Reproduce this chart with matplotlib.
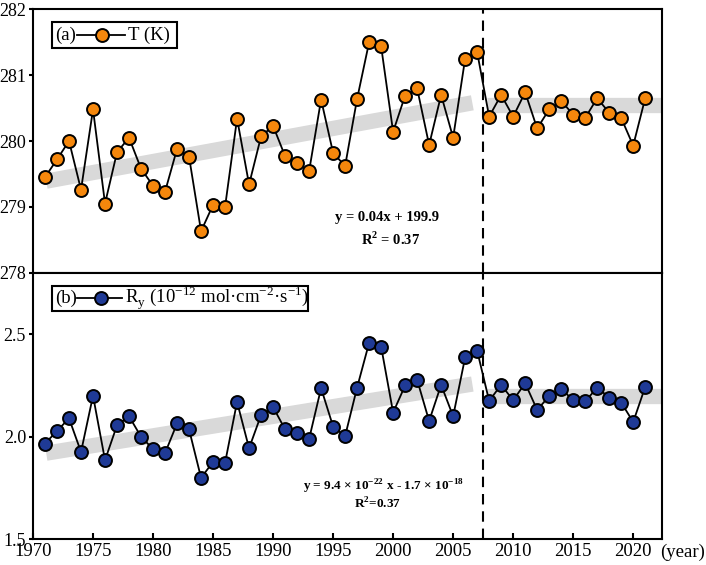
import numpy as np
import matplotlib.pyplot as plt
from matplotlib.lines import Line2D
from matplotlib.patches import Rectangle

plt.rcParams['font.family'] = ['Liberation Serif', 'DejaVu Serif']
plt.rcParams['mathtext.fontset'] = 'custom'
plt.rcParams['mathtext.rm'] = 'Liberation Serif'
plt.rcParams['mathtext.bf'] = 'Liberation Serif:bold'

# Years
years = np.arange(1971, 2022)

# (a) temperature in K
temp_k = [279.45, 279.72, 280.00, 279.26, 280.48, 279.05, 279.83, 280.05, 279.58, 279.32,
          279.23, 279.88, 279.76, 278.63, 279.03, 279.00, 280.34, 279.34, 280.07, 280.23,
          279.77, 279.67, 279.54, 280.63, 279.82, 279.62, 280.64, 281.50, 281.44, 280.14,
          280.69, 280.80, 279.94, 280.70, 280.05, 281.25, 281.35, 280.37, 280.70, 280.37,
          280.74, 280.19, 280.48, 280.61, 280.40, 280.35, 280.65, 280.43, 280.35, 279.93,
          280.65]

# (b) R_y in 10^-12 mol cm-2 s-1
r_y = [1.967, 2.028, 2.090, 1.926, 2.200, 1.886, 2.056, 2.100, 2.000, 1.940,
       1.920, 2.065, 2.036, 1.800, 1.877, 1.873, 2.170, 1.944, 2.106, 2.145,
       2.036, 2.016, 1.989, 2.237, 2.050, 2.003, 2.240, 2.458, 2.440, 2.118,
       2.250, 2.278, 2.077, 2.253, 2.100, 2.387, 2.420, 2.175, 2.253, 2.178,
       2.261, 2.131, 2.198, 2.232, 2.180, 2.172, 2.240, 2.191, 2.167, 2.072,
       2.243]

# trend bands (x start/end, y start/end)
trend_x1 = [1971.1, 2006.6]
trend_a1 = [279.39, 280.58]
trend_b1 = [1.92, 2.257]
trend_x2 = [2007.8, 2022.4]
trend_a2 = [280.54, 280.54]
trend_b2 = [2.20, 2.20]

split_year = 2007.5

W, H = 706, 565
fig = plt.figure(figsize=(W / 100, H / 100), dpi=100)


def fx(x):
    return x / W


def fy(y):
    return 1 - y / H


left, right = 33, 662
ax1 = fig.add_axes([fx(left), fy(272.7), (right - left) / W, (272.7 - 9.3) / H])
ax2 = fig.add_axes([fx(left), fy(539.3), (right - left) / W, (539.3 - 272.7) / H])

orange = '#f5870c'
blue = '#1f3a96'
band = '#d9d9d9'

for ax, vals, col, t1, t2 in [(ax1, temp_k, orange, trend_a1, trend_a2),
                              (ax2, r_y, blue, trend_b1, trend_b2)]:
    ax.plot(trend_x1, t1, color=band, lw=11, solid_capstyle='butt', zorder=1)
    ax.plot(trend_x2, t2, color=band, lw=11, solid_capstyle='butt', zorder=1)
    ax.plot(years, vals, color='black', lw=1.3, marker='o', ms=9.3,
            mfc=col, mec='black', mew=1.4, zorder=3)
    ax.axvline(split_year, color='black', lw=1.5, ls=(0, (5, 3.3)), zorder=2)
    ax.set_xlim(1970, 2022.4)
    for s in ax.spines.values():
        s.set_linewidth(1.5)
    ax.tick_params(axis='y', direction='out', length=3, width=1.5, pad=2, labelsize=13)
    ax.tick_params(axis='x', direction='in', length=4, width=1.5, pad=3, labelsize=13.5)

ax1.set_ylim(278, 282)
ax1.set_yticks([278, 279, 280, 281, 282])
ax1.tick_params(axis='x', bottom=False, labelbottom=False)

ax2.set_ylim(1.5, 2.8)
ax2.set_yticks([1.5, 2.0, 2.5])
ax2.set_yticklabels(['1.5', '2.0', '2.5'])
ax2.set_xticks([1970, 1975, 1980, 1985, 1990, 1995, 2000, 2005, 2010, 2015, 2020])
fig.text(fx(660), fy(552), '(year)', ha='left', va='center', fontsize=13.5)

# equations
fig.text(fx(387), fy(218), 'y = 0.04x + 199.9', ha='center', va='center',
         fontsize=10.5, fontweight='bold')
fig.text(fx(391), fy(239), r'R$^\mathbf{2}$ = 0.37', ha='center', va='center',
         fontsize=10.5, fontweight='bold')
fig.text(fx(384), fy(487), r'y = 9.4 × 10$^\mathbf{-22}$ x - 1.7 × 10$^\mathbf{-18}$',
         ha='center', va='center', fontsize=9.5, fontweight='bold')
fig.text(fx(378), fy(504), r'R$^\mathbf{2}$=0.37', ha='center', va='center',
         fontsize=9.5, fontweight='bold')


# legend boxes drawn by hand
def legend_box(x0, x1, y0, y1, tag, lx0, lx1, mx, label, lab_x, col):
    yc = (y0 + y1) / 2
    fig.add_artist(Rectangle((fx(x0), fy(y1)), fx(x1 - x0), (y1 - y0) / H,
                             transform=fig.transFigure, fill=True, fc='white',
                             ec='black', lw=1.5, zorder=5))
    fig.text(fx(55), fy(yc), tag, ha='left', va='center', fontsize=13.5, zorder=6)
    fig.add_artist(Line2D([fx(lx0), fx(lx1)], [fy(yc), fy(yc)], color='black', lw=1.3,
                          transform=fig.transFigure, zorder=6))
    fig.add_artist(Line2D([fx(mx)], [fy(yc)], marker='o', ms=9.3, mfc=col, mec='black',
                          mew=1.4, transform=fig.transFigure, zorder=7))
    fig.text(fx(lab_x), fy(yc), label, ha='left', va='center', fontsize=13.5, zorder=6)


legend_box(52.3, 176.7, 21.7, 48.3, '(a)', 77, 125, 101.7, 'T (K)', 128, orange)
legend_box(51.7, 308.3, 285.5, 310.5, '(b)', 77, 121.7, 101,
           r'R$_\mathregular{y}$ (10$^\mathregular{-12}$ mol·cm$^\mathregular{-2}$·s$^\mathregular{-1}$)',
           125, blue)

fig.savefig('out.png', dpi=100)
